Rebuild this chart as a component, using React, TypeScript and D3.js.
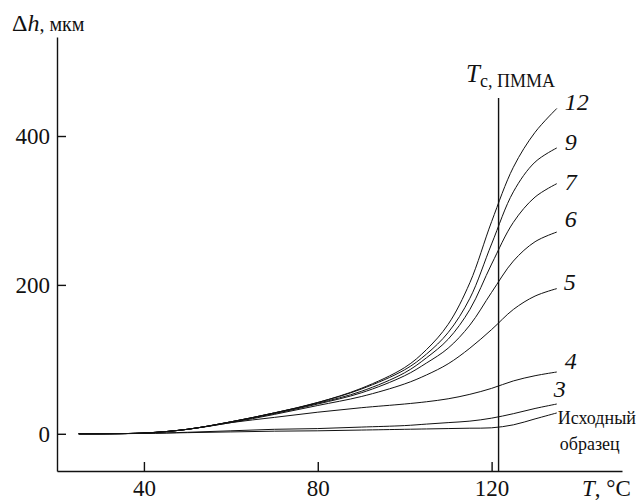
import React, { useEffect, useRef } from 'react';
import * as d3 from 'd3';

// temperature grid, °C
const temps = [25, 40, 50, 60, 70, 80, 90, 100, 105, 110, 115, 120, 125, 130, 135];

// Δh, мкм for each curve
const curve12 = [0, 1, 6, 16, 28, 42, 61, 89, 113, 147, 203, 285, 358, 405, 437];
const curve9 = [0, 1, 6, 16, 28, 42, 60, 86, 107, 136, 182, 255, 325, 365, 384];
const curve7 = [0, 1, 6, 16, 28, 41, 57, 82, 102, 127, 167, 228, 284, 318, 336];
const curve6 = [0, 1, 6, 16, 27, 40, 55, 78, 95, 115, 146, 190, 232, 258, 271];
const curve5 = [0, 1, 6, 15, 26, 38, 50, 67, 79, 94, 115, 140, 167, 185, 195];
const curve4 = [0, 1, 6, 15, 22, 29, 35, 40, 43, 47, 53, 61, 71, 78, 83];
const curve3 = [0, 0.5, 2, 4, 6, 7, 9, 11, 13, 15, 17, 21, 27, 34, 40];
const curveInit = [0, 0.5, 1.5, 2.5, 3.5, 4, 5, 6, 6.5, 7, 7.5, 8, 12, 20, 28];

const seriesNames = ['12', '9', '7', '6', '5', '4', '3', 'Исходный образец'];
const seriesValues = [curve12, curve9, curve7, curve6, curve5, curve4, curve3, curveInit];

const xTicks = [40, 80, 120];
const yTicks = [0, 200, 400];
const tcPmma = 121.6;

const W = 644;
const H = 501;
const serif = "'Liberation Serif', 'Times New Roman', Times, serif";

const App = () => {
  const gRef = useRef<SVGGElement>(null);

  useEffect(() => {
    const root = d3.select(gRef.current);
    root.selectAll('*').remove();

    const x = d3.scaleLinear().domain([20, 150]).range([57, 622]);
    const y = d3.scaleLinear().domain([-50, 533]).range([471, 37]);

    // axes
    const xAxis = root
      .append('g')
      .attr('transform', `translate(0,${y(-50)})`)
      .call(d3.axisBottom(x).tickValues(xTicks).tickSize(-9).tickSizeOuter(0).tickPadding(9));
    const yAxis = root
      .append('g')
      .attr('transform', `translate(${x(20)},0)`)
      .call(d3.axisLeft(y).tickValues(yTicks).tickSize(-9).tickSizeOuter(0).tickPadding(7));

    [xAxis, yAxis].forEach((g) => {
      g.attr('font-family', null).attr('font-size', null);
      g.selectAll('path,line').attr('stroke', '#111').attr('stroke-width', 1.4);
      g.selectAll('text').attr('fill', '#111').attr('font-size', 23);
    });

    // Tc line
    root
      .append('line')
      .attr('x1', x(tcPmma))
      .attr('x2', x(tcPmma))
      .attr('y1', 98)
      .attr('y2', y(-50))
      .attr('stroke', '#111')
      .attr('stroke-width', 1.4);

    // curves
    const line = d3
      .line<number>()
      .x((_, i) => x(temps[i]))
      .y((d) => y(d))
      .curve(d3.curveCatmullRom.alpha(0.5));

    seriesValues.forEach((vals) => {
      root
        .append('path')
        .attr('d', line(vals))
        .attr('fill', 'none')
        .attr('stroke', '#111')
        .attr('stroke-width', 1);
    });

    // curve labels: offsets from the last point
    const labelOffsets = [
      [8, 2],
      [8, 2],
      [8, 6],
      [8, -5],
      [7, 1],
      [8, -3],
      [-3, -7],
    ];
    const lastX = x(temps[temps.length - 1]);
    seriesNames.slice(0, 7).forEach((name, i) => {
      const v = seriesValues[i][seriesValues[i].length - 1];
      root
        .append('text')
        .attr('x', lastX + labelOffsets[i][0])
        .attr('y', y(v) + labelOffsets[i][1])
        .attr('fill', '#111')
        .attr('font-size', 24)
        .attr('font-style', 'italic')
        .text(name);
    });

    const initEnd = y(curveInit[curveInit.length - 1]);
    const [w1, w2] = seriesNames[7].split(' ');
    root
      .append('text')
      .attr('x', lastX + 1)
      .attr('y', initEnd + 11)
      .attr('fill', '#111')
      .attr('font-size', 18)
      .text(w1);
    root
      .append('text')
      .attr('x', lastX + 3)
      .attr('y', initEnd + 37)
      .attr('fill', '#111')
      .attr('font-size', 18)
      .text(w2);
  }, []);

  return (
    <svg
      width={W}
      height={H}
      fontFamily={serif}
      style={{ position: 'absolute', left: 0, top: 0, background: '#fff' }}
    >
      <g ref={gRef} />
      <text x={12} y={31} fill="#111" fontSize={24}>
        Δ<tspan fontStyle="italic">h</tspan>
        <tspan fontSize={20}>, мкм</tspan>
      </text>
      <text x={466} y={82} fill="#111" fontSize={25}>
        <tspan fontStyle="italic">T</tspan>
        <tspan fontSize={18} dy={5}>с, ПММА</tspan>
      </text>
      <text x={582} y={496} fill="#111" fontSize={23}>
        <tspan fontStyle="italic">T</tspan>, °C
      </text>
    </svg>
  );
};

export default App;
